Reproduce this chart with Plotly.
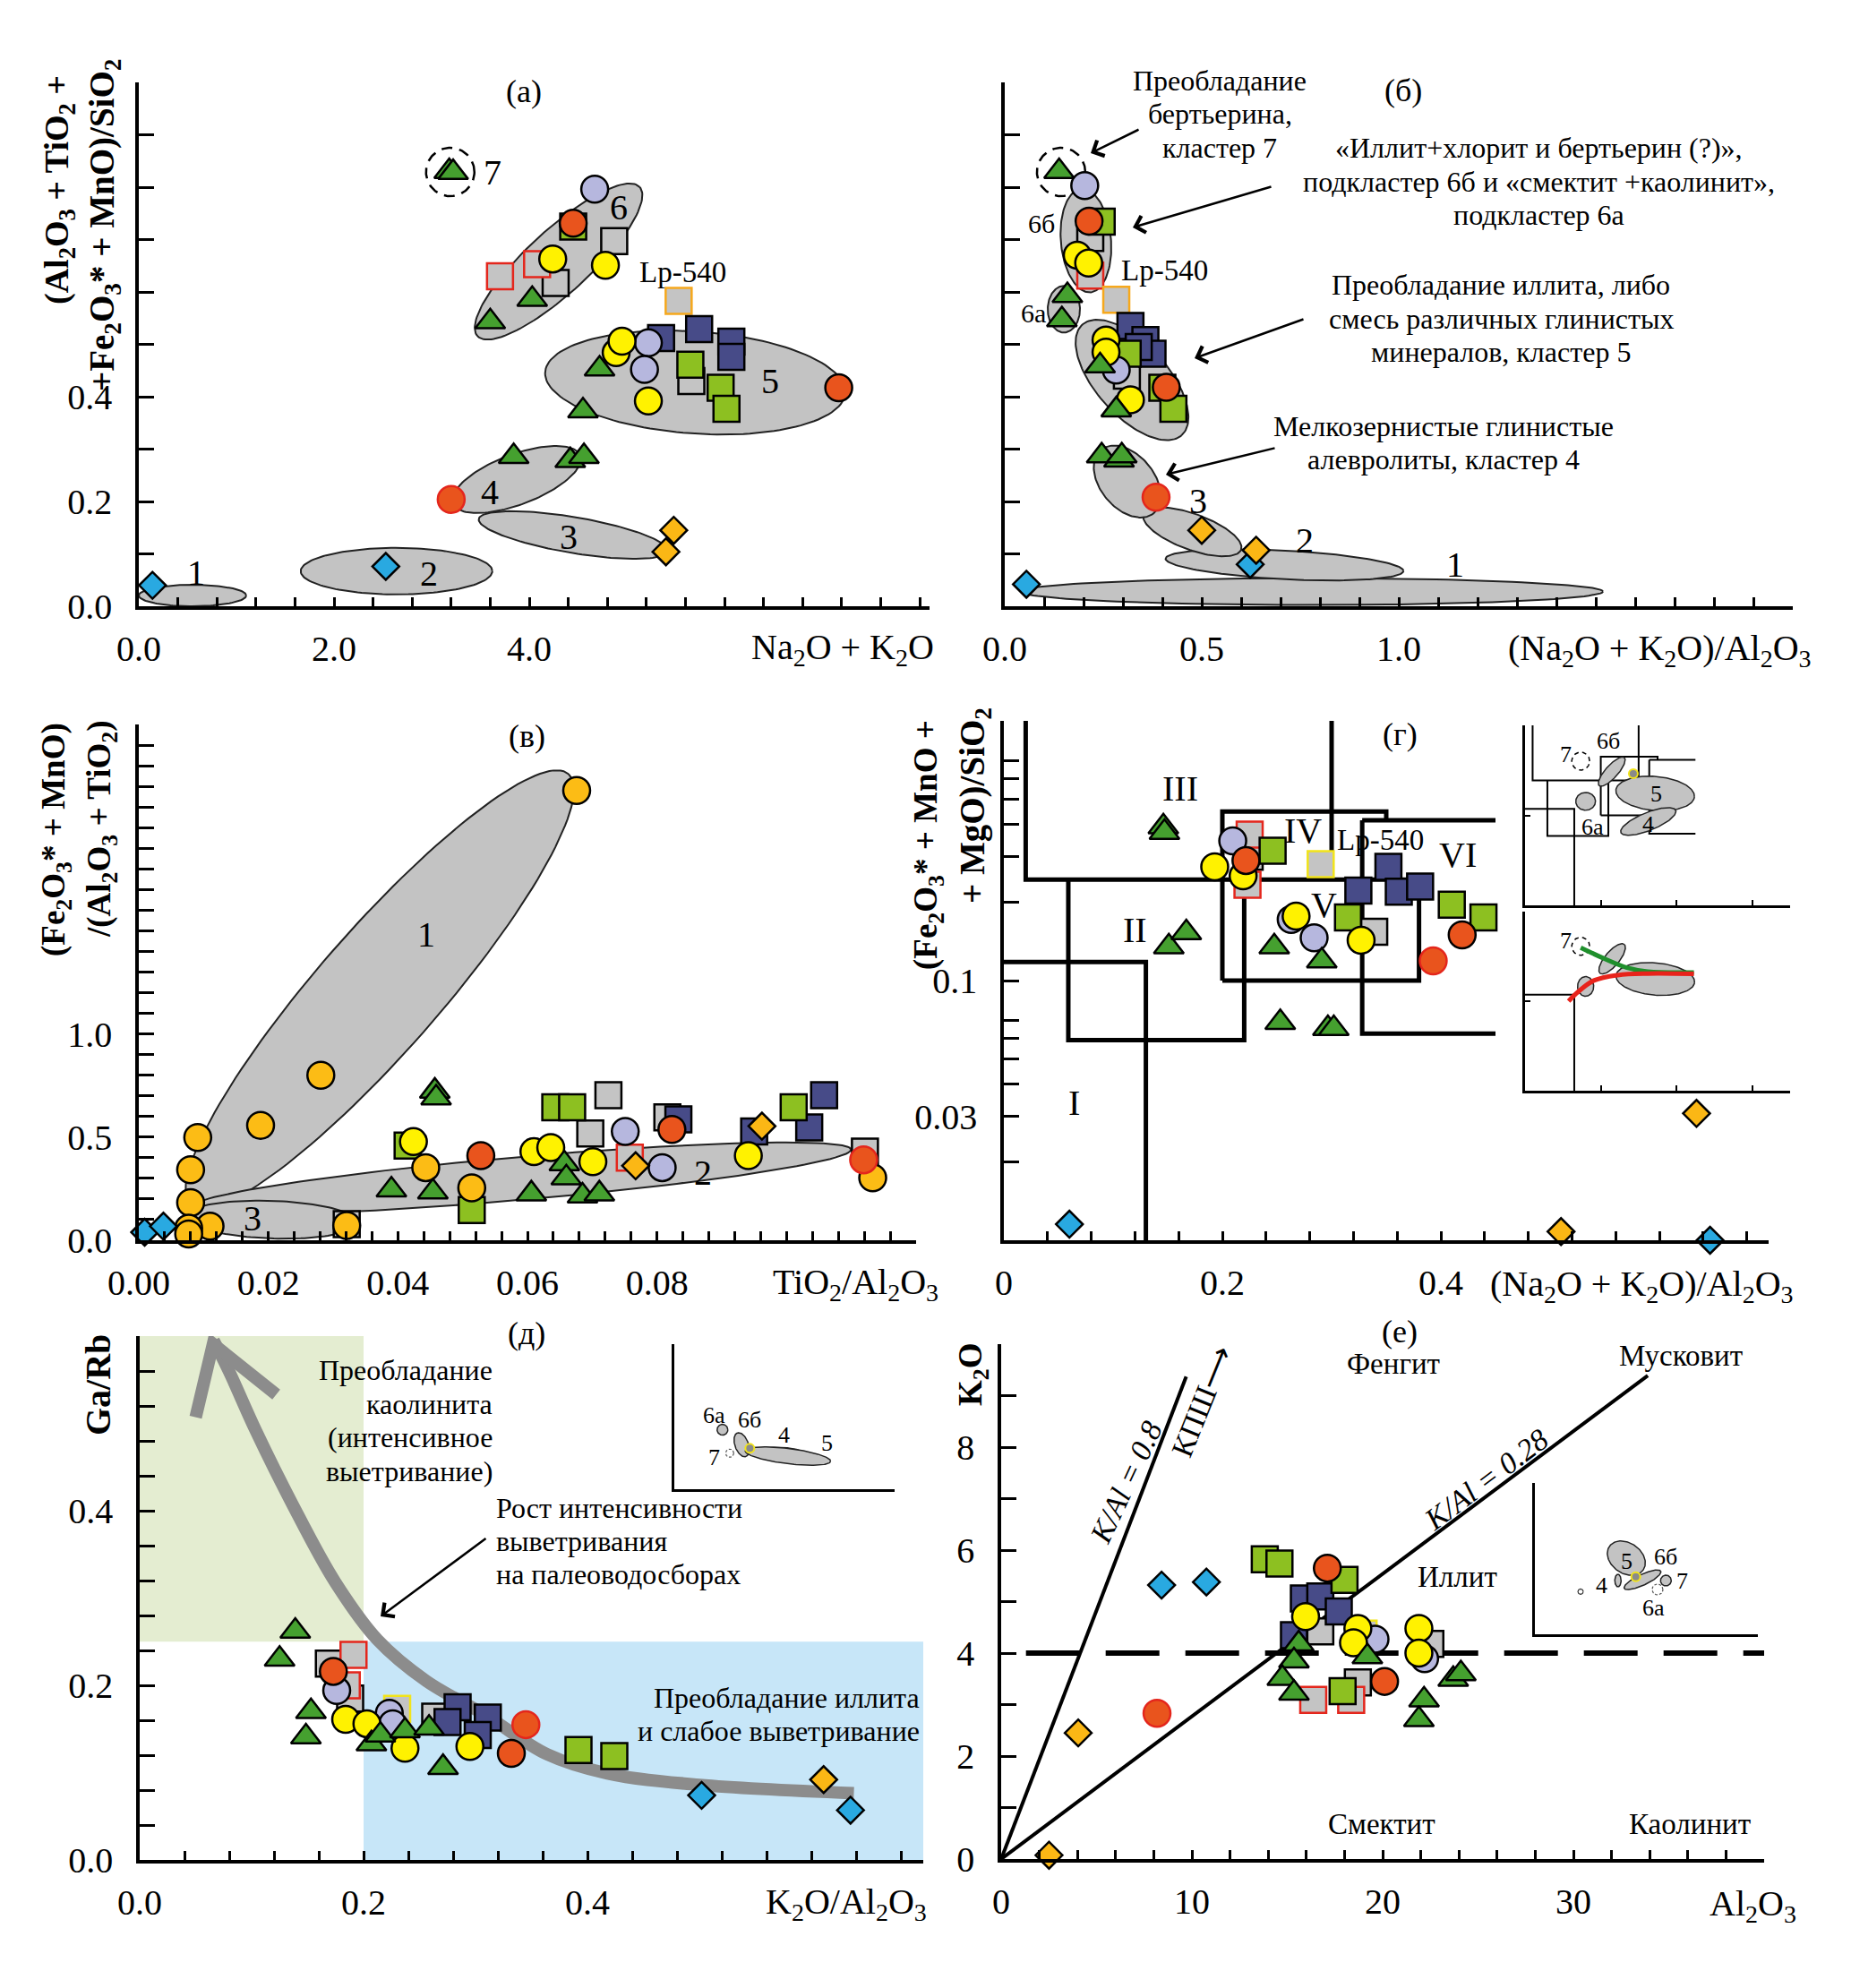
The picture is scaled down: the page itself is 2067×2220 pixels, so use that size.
import numpy as np
import plotly.graph_objects as go

W, H = 2067, 2220
OFF = 8                      # the page body margin; the figure is drawn inside it
FW, FH = W - OFF, H - OFF
FONT = "Liberation Serif"

# ---------------- data ----------------
# kinds: bd blue diamond, od gold diamond, rc red circle, rr red circle red edge,
# gt green triangle, yc yellow circle, oc gold circle, lc lavender circle,
# ns navy square, ls lime square, gs gray square, gr gray square red edge,
# lp gray square orange edge (Lp-540), ly gray square yellow edge (Lp-540)

A_X = [0.14, 2.53, 5.48, 5.40, 3.20, 3.84, 4.42, 4.56, 4.55, 4.72, 4.89, 4.95, 5.22, 5.22, 5.18,
       5.35, 5.74, 6.07, 6.07, 5.65, 5.96, 6.02, 5.66, 7.17, 5.53, 4.67, 4.45, 4.45, 4.87, 4.24,
       4.78, 3.70, 4.08, 4.27, 4.03, 3.60, 3.18, 3.22]
A_Y = [0.040, 0.076, 0.145, 0.104, 0.204, 0.286, 0.278, 0.286, 0.373, 0.453, 0.484, 0.506, 0.392, 0.503, 0.452,
       0.512, 0.529, 0.505, 0.476, 0.461, 0.417, 0.377, 0.430, 0.417, 0.583, 0.796, 0.725, 0.731, 0.697, 0.663,
       0.651, 0.630, 0.653, 0.617, 0.586, 0.543, 0.830, 0.828]
A_K = ['bd', 'bd', 'od', 'od', 'rr', 'gt', 'gt', 'gt', 'gt', 'gt', 'yc', 'yc', 'yc', 'lc', 'lc',
       'ns', 'ns', 'ns', 'ns', 'ls', 'ls', 'ls', 'gs', 'rc', 'lp', 'lc', 'ls', 'rc', 'gs', 'yc',
       'yc', 'gr', 'gr', 'gs', 'gt', 'gt', 'gt', 'gt']

B_X = [0.138, 0.203, 0.246, 0.217, 0.214, 0.217, 0.184, 0.213, 0.159, 0.145, 0.283, 0.319, 0.357, 0.375,
       0.340, 0.312, 0.400, 0.428, 0.310, 0.257, 0.257, 0.319, 0.283, 0.242, 0.283, 0.410, 0.246, 0.290,
       0.297, 0.384, 0.500, 0.638, 0.623, 0.055]
B_Y = [0.830, 0.803, 0.734, 0.703, 0.735, 0.631, 0.670, 0.655, 0.593, 0.547, 0.585, 0.535, 0.508, 0.482,
       0.495, 0.482, 0.417, 0.377, 0.440, 0.508, 0.485, 0.394, 0.451, 0.459, 0.375, 0.418, 0.287, 0.279,
       0.287, 0.208, 0.145, 0.107, 0.080, 0.042]
B_K = ['gt', 'lc', 'ls', 'gs', 'rc', 'gr', 'yc', 'yc', 'gt', 'gt', 'lp', 'ns', 'ns', 'ns',
       'ns', 'ls', 'ls', 'ls', 'gs', 'yc', 'yc', 'yc', 'lc', 'gt', 'gt', 'rc', 'gt', 'gt',
       'gt', 'rr', 'od', 'od', 'bd', 'bd']

V_X = [0.0676, 0.0281, 0.0188, 0.0091, 0.0080, 0.0080, 0.0110, 0.0077, 0.0077, 0.0443, 0.0514, 0.1133,
       0.0321, 0.0009, 0.0038, 0.0321, 0.0725, 0.0697, 0.0816, 0.1121, 0.0457, 0.0459, 0.0390, 0.0454,
       0.0606, 0.0657, 0.0660, 0.0685, 0.0711, 0.0415, 0.0514, 0.0643, 0.0669, 0.1011, 0.0424, 0.0610,
       0.0636, 0.0701, 0.0941, 0.0528, 0.0823, 0.1119, 0.0833, 0.0950, 0.1058, 0.1035, 0.0751, 0.0808,
       0.0962, 0.0767, 0.0758]
V_Y = [2.18, 0.80, 0.557, 0.498, 0.342, 0.182, 0.068, 0.059, 0.030, 0.352, 0.254, 0.303,
       0.072, 0.039, 0.068, 0.078, 0.703, 0.518, 0.596, 0.430, 0.723, 0.690, 0.244, 0.234,
       0.225, 0.371, 0.303, 0.215, 0.225, 0.459, 0.146, 0.645, 0.645, 0.645, 0.478, 0.430,
       0.449, 0.381, 0.410, 0.410, 0.537, 0.390, 0.586, 0.527, 0.703, 0.547, 0.527, 0.352,
       0.553, 0.361, 0.400]
V_K = ['oc', 'oc', 'oc', 'oc', 'oc', 'oc', 'oc', 'oc', 'oc', 'oc', 'oc', 'oc',
       'oc', 'bd', 'bd', 'gs', 'gs', 'gs', 'gs', 'gs', 'gt', 'gt', 'gt', 'gt',
       'gt', 'gt', 'gt', 'gt', 'gt', 'ls', 'ls', 'ls', 'ls', 'ls', 'yc', 'yc',
       'yc', 'yc', 'yc', 'rc', 'rc', 'rr', 'ns', 'ns', 'ns', 'ns', 'lc', 'lc',
       'od', 'od', 'gr']

G_X = [0.146, 0.147, 0.151, 0.167, 0.2475, 0.291, 0.253, 0.2966, 0.302, 0.225, 0.223, 0.225, 0.339,
       0.2095, 0.284, 0.263, 0.246, 0.410, 0.439, 0.315, 0.2216, 0.4195, 0.393, 0.193, 0.219, 0.2675,
       0.327, 0.290, 0.352, 0.3245, 0.3615, 0.381, 0.634, 0.510, 0.060, 0.6464]
G_Y = [0.391, 0.372, 0.135, 0.153, 0.135, 0.119, 0.069, 0.0654, 0.0654, 0.365, 0.234, 0.300, 0.154,
       0.345, 0.146, 0.172, 0.316, 0.196, 0.175, 0.175, 0.290, 0.150, 0.119, 0.274, 0.253, 0.177,
       0.143, 0.281, 0.274, 0.222, 0.220, 0.230, 0.0308, 0.0108, 0.01153, 0.0100]
G_K = ['gt', 'gt', 'gt', 'gt', 'gt', 'gt', 'gt', 'gt', 'gt', 'gr', 'gr', 'gs', 'gs',
       'lc', 'lc', 'lc', 'ls', 'ls', 'ls', 'ls', 'rc', 'rc', 'rr', 'yc', 'yc', 'yc',
       'yc', 'ly', 'ns', 'ns', 'ns', 'ns', 'od', 'od', 'bd', 'bd']

D_X = [0.139, 0.125, 0.153, 0.1485, 0.207, 0.215, 0.237, 0.2585, 0.271, 0.169, 0.188, 0.264, 0.191,
       0.185, 0.173, 0.332, 0.345, 0.176, 0.223, 0.226, 0.184, 0.203, 0.237, 0.295, 0.230, 0.284,
       0.275, 0.311, 0.302, 0.392, 0.424, 0.611, 0.502, 0.635]
D_Y = [0.262, 0.230, 0.170, 0.141, 0.133, 0.143, 0.148, 0.151, 0.106, 0.225, 0.185, 0.164, 0.235,
       0.200, 0.216, 0.122, 0.155, 0.194, 0.168, 0.156, 0.161, 0.156, 0.128, 0.130, 0.173, 0.175,
       0.158, 0.163, 0.143, 0.126, 0.119, 0.092, 0.074, 0.057]
D_K = ['gt', 'gt', 'gt', 'gt', 'gt', 'gt', 'gt', 'gt', 'gt', 'gs', 'gs', 'gs', 'gr',
       'gr', 'rc', 'rc', 'rr', 'lc', 'lc', 'lc', 'yc', 'yc', 'yc', 'yc', 'ly', 'ns',
       'ns', 'ns', 'ns', 'ls', 'ls', 'od', 'bd', 'bd']

E_X = [8.41, 10.76, 4.04, 2.51, 8.17, 13.82, 14.59, 18.0, 17.9, 17.1, 20.1, 15.87, 16.73, 17.7, 15.35,
       15.96, 18.7, 18.47, 21.9, 21.9, 16.73, 22.5, 18.7, 19.0, 16.36, 18.35, 19.6, 22.2, 15.6, 15.35,
       19.2, 14.74, 15.35, 22.17, 21.9, 23.7, 24.1]
E_Y = [5.32, 5.38, 2.45, 0.075, 2.83, 5.82, 5.74, 5.42, 3.26, 5.65, 3.45, 5.06, 5.10, 4.81, 4.35,
       4.71, 4.48, 4.20, 4.48, 4.00, 4.42, 4.18, 3.43, 4.38, 3.09, 3.09, 4.27, 3.89, 4.18, 3.85,
       3.93, 3.51, 3.22, 3.09, 2.71, 3.49, 3.60]
E_K = ['bd', 'bd', 'od', 'od', 'rr', 'ls', 'ls', 'ls', 'ls', 'rc', 'rc', 'ns', 'ns', 'ns', 'ns',
       'yc', 'yc', 'yc', 'yc', 'yc', 'gs', 'gs', 'gs', 'ly', 'gr', 'gr', 'lc', 'lc', 'gt', 'gt',
       'gt', 'gt', 'gt', 'gt', 'gt', 'gt', 'gt']

# cluster ellipses: centre (data), semi-axes (px), angle (deg)
ELL_A = [(0.55, 0.0205, 60, 12, 0), (2.64, 0.067, 107, 26, 0), (4.45, 0.136, 107, 20, -9.6),
         (3.87, 0.242, 76, 28, 20.6), (5.70, 0.427, 168, 57, -4), (4.30, 0.658, 123, 35, 42.6)]
ELL_A7 = [(3.19, 0.829, 27, 27, 0)]
ELL_B = [(0.78, 0.028, 325, 15, 0), (0.71, 0.079, 133, 16, -3), (0.476, 0.142, 58, 20, -20),
         (0.311, 0.238, 46, 30, -50), (0.323, 0.432, 83, 40, -48), (0.206, 0.698, 58, 28, 95),
         (0.15, 0.567, 26, 18, 90)]
ELL_B7 = [(0.143, 0.829, 27, 27, 0)]
ELL_V = [(0.0372, 1.215, 320, 68, 48.8), (0.059, 0.300, 370, 24, 5), (0.0205, 0.100, 97, 21, -2)]

# г: boundaries of fields I-VI
G_SEG = [([0.02, 0.02, 0.2], [1.0, 0.245, 0.245]),
         ([0.0, 0.13, 0.13], [0.118, 0.118, 0.01]),
         ([0.059, 0.059, 0.22, 0.22], [0.245, 0.059, 0.059, 0.245]),
         ([0.30, 0.30], [1.0, 0.245]),
         ([0.20, 0.20, 0.35, 0.35], [0.10, 0.448, 0.448, 0.414]),
         ([0.20, 0.38, 0.38, 0.20], [0.245, 0.245, 0.10, 0.10]),
         ([0.328, 0.45], [0.414, 0.414]),
         ([0.328, 0.328, 0.45], [0.414, 0.0625, 0.0625])]
G1_ELL = [(0.229, 0.306, 21, 7, 48), (0.3436, 0.175, 44, 19, -5), (0.3255, 0.0855, 33, 10, 22),
          (0.16, 0.143, 10, 11, 90)]
G2_ELL = [(0.23, 0.297, 21, 8, 50), (0.344, 0.177, 44, 18, -5), (0.16, 0.146, 11, 9, 90)]
G_GREEN_X = [0.147, 0.206, 0.269, 0.324, 0.446]
G_GREEN_LY = [-0.402, -0.519, -0.626, -0.669, -0.679]
G_RED_X = [0.115, 0.139, 0.182, 0.245, 0.324, 0.446]
G_RED_LY = [-1.0, -0.90, -0.769, -0.709, -0.692, -0.696]

# д: weathering trend arrow
D_ARR_X = [0.638, 0.500, 0.418, 0.364, 0.310, 0.256, 0.2125, 0.1745, 0.1366, 0.104, 0.0797, 0.066]
D_ARR_Y = [0.0765, 0.086, 0.099, 0.121, 0.165, 0.205, 0.252, 0.3185, 0.407, 0.491, 0.560, 0.595]
D_HEAD_X = [0.050, 0.0655, 0.122]
D_HEAD_Y = [0.507, 0.591, 0.533]
D1_ELL = [(0.153, 0.246, 6, 6, 0), (0.214, 0.184, 14, 7.5, 110), (0.319, 0.153, 30, 5.5, 0),
          (0.361, 0.137, 48, 8.5, -7)]

# е: reference lines
E_L08_X, E_L08_Y = [0, 9.7], [0, 9.37]
E_L028_X, E_L028_Y = [0, 33.9], [0, 9.39]
E_DASH_X, E_DASH_Y = [1.3, 40], [4, 4]
E1_ELL = [(16.4, 5.03, 23, 17, -35), (19.3, 3.6, 22.5, 6, 25), (14.9, 3.55, 3.5, 7, 0),
          (23.5, 3.55, 6, 6, 0)]

# ---------------- panels layout (px boxes in the 2067x2220 window) ----------------
PAN = {
    'a': dict(ax='', box=(155, 1038, 92, 677), xr=[0, 8.1], yr=[0, 1.0], log=False),
    'b': dict(ax='2', box=(1122, 2002, 92, 677), xr=[0, 2.0], yr=[0, 1.0], log=False),
    'v': dict(ax='3', box=(155, 1023, 809, 1385), xr=[0, 0.12], yr=[0, 2.5], log=False),
    'g': dict(ax='4', box=(1121, 1975, 805, 1385), xr=[0, 0.7], yr=[-2, 0], log=True),
    'd': dict(ax='5', box=(156, 1031, 1492, 2077), xr=[0, 0.7], yr=[0, 0.6], log=False),
    'e': dict(ax='6', box=(1118, 1970, 1501, 2076), xr=[0, 40], yr=[0, 10], log=False),
    'g1': dict(ax='7', box=(1703, 1999, 810, 1011), xr=[0, 0.7], yr=[-2, 0], log=True),
    'g2': dict(ax='8', box=(1703, 1999, 1018, 1218), xr=[0, 0.7], yr=[-2, 0], log=True),
    'd1': dict(ax='9', box=(753, 999, 1501, 1663), xr=[0, 0.7], yr=[0, 0.6], log=False),
    'e1': dict(ax='10', box=(1714, 1963, 1656, 1825), xr=[0, 40], yr=[0, 10], log=False),
}

STY = {
    'bd': ('diamond', '#29a9e1', 'black', 23),
    'od': ('diamond', '#fbb715', 'black', 23),
    'rc': ('circle', '#e9541d', 'black', 30),
    'rr': ('circle', '#e9541d', '#e4261c', 30),
    'gt': ('triangle-up', '#45a02f', 'black', 29),
    'yc': ('circle', '#fff200', 'black', 30),
    'oc': ('circle', '#fcbc15', 'black', 30),
    'lc': ('circle', '#b6b7de', 'black', 30),
    'ns': ('square', '#474b88', 'black', 29),
    'ls': ('square', '#8dc021', 'black', 29),
    'gs': ('square', '#c4c4c4', 'black', 29),
    'gr': ('square', '#c4c4c4', '#e4261c', 29),
    'lp': ('square', '#c4c4c4', '#f6a81c', 29),
    'ly': ('square', '#c4c4c4', '#f2e41a', 29),
}
ORDER = ['gs', 'gr', 'lp', 'ly', 'ns', 'ls', 'lc', 'yc', 'oc', 'rc', 'rr', 'gt', 'bd', 'od']

fig = go.Figure()


def refs(p):
    s = PAN[p]['ax']
    return 'x' + s, 'y' + s


def scale(p):
    l, r, t, b = PAN[p]['box']
    xr, yr = PAN[p]['xr'], PAN[p]['yr']
    return (r - l) / (xr[1] - xr[0]), (b - t) / (yr[1] - yr[0]), PAN[p]['log']


def ell_xy(p, cx, cy, a, b, ang, n=140):
    sx, sy, lg = scale(p)
    t = np.linspace(0, 2 * np.pi, n)
    u, v = a * np.cos(t), b * np.sin(t)
    th = np.radians(ang)
    dx = u * np.cos(th) - v * np.sin(th)
    dy = u * np.sin(th) + v * np.cos(th)
    x = cx + dx / sx
    y = cy * 10 ** (dy / sy) if lg else cy + dy / sy
    return x, y


def add_ell(p, E, fill='#c3c3c3', edge='#222222', lw=2.0, dash=None):
    xa, ya = refs(p)
    for (cx, cy, a, b, ang) in E:
        x, y = ell_xy(p, cx, cy, a, b, ang)
        fig.add_trace(go.Scatter(x=x, y=y, mode='lines', xaxis=xa, yaxis=ya,
                                 fill='toself' if fill else 'none', fillcolor=fill,
                                 line=dict(color=edge, width=lw, dash=dash),
                                 cliponaxis=False, hoverinfo='skip', showlegend=False))


def add_line(p, x, y, color='black', width=4, dash=None, shape='linear'):
    xa, ya = refs(p)
    fig.add_trace(go.Scatter(x=x, y=y, mode='lines', xaxis=xa, yaxis=ya,
                             line=dict(color=color, width=width, dash=dash, shape=shape),
                             cliponaxis=False, hoverinfo='skip', showlegend=False))


def add_pts(p, X, Y, K):
    xa, ya = refs(p)
    for kind in ORDER:
        idx = [i for i, k in enumerate(K) if k == kind]
        if not idx:
            continue
        sym, fc, lc, sz = STY[kind]
        fig.add_trace(go.Scatter(x=[X[i] for i in idx], y=[Y[i] for i in idx], mode='markers',
                                 xaxis=xa, yaxis=ya, cliponaxis=False, hoverinfo='skip',
                                 showlegend=False,
                                 marker=dict(symbol=sym, size=sz, color=fc,
                                             line=dict(color=lc, width=2.5))))


def dot(p, x, y, fill='#8a8a8a', edge='#f2e41a', size=10):
    xa, ya = refs(p)
    fig.add_trace(go.Scatter(x=[x], y=[y], mode='markers', xaxis=xa, yaxis=ya, cliponaxis=False,
                             hoverinfo='skip', showlegend=False,
                             marker=dict(symbol='circle', size=size, color=fill,
                                         line=dict(color=edge, width=2))))


# ---- panel а
add_ell('a', ELL_A)
add_ell('a', ELL_A7, fill=None, edge='black', lw=2.5, dash='12px,8px')
add_pts('a', A_X, A_Y, A_K)
# ---- panel б
add_ell('b', ELL_B)
add_ell('b', ELL_B7, fill=None, edge='black', lw=2.5, dash='12px,8px')
add_pts('b', B_X, B_Y, B_K)
# ---- panel в
add_ell('v', ELL_V)
add_pts('v', V_X, V_Y, V_K)
# ---- panel г
for sx_, sy_ in G_SEG:
    add_line('g', sx_, sy_, width=5)
add_pts('g', G_X, G_Y, G_K)
for sx_, sy_ in G_SEG:
    add_line('g1', sx_, sy_, width=2)
add_ell('g1', G1_ELL, lw=1.5)
add_ell('g1', [(0.147, 0.40, 10, 10, 0)], fill=None, edge='black', lw=1.5, dash='5px,4px')
dot('g1', 0.286, 0.29)
add_line('g2', G_SEG[1][0], G_SEG[1][1], width=2)
add_ell('g2', G2_ELL, lw=1.5)
add_ell('g2', [(0.147, 0.41, 10, 10, 0)], fill=None, edge='black', lw=1.5, dash='5px,4px')
add_line('g2', G_GREEN_X, [10 ** v for v in G_GREEN_LY], color='#1f8f2c', width=5, shape='spline')
add_line('g2', G_RED_X, [10 ** v for v in G_RED_LY], color='#e8231b', width=5, shape='spline')
# ---- panel д
add_line('d', D_ARR_X, D_ARR_Y, color='#8c8c8c', width=14, shape='spline')
add_line('d', D_HEAD_X, D_HEAD_Y, color='#8c8c8c', width=14)
add_pts('d', D_X, D_Y, D_K)
add_ell('d1', D1_ELL, lw=1.5)
add_ell('d1', [(0.176, 0.149, 4.5, 4.5, 0)], fill=None, edge='#555555', lw=1.2, dash='3px,2px')
dot('d1', 0.24, 0.169)
# ---- panel е
add_line('e', E_L08_X, E_L08_Y, width=4)
add_line('e', E_L028_X, E_L028_Y, width=4)
add_line('e', E_DASH_X, E_DASH_Y, width=6, dash='60px,29px')
add_pts('e', E_X, E_Y, E_K)
add_ell('e1', E1_ELL, lw=1.5)
add_ell('e1', [(22.0, 2.96, 6, 6, 0)], fill=None, edge='#555555', lw=1.2, dash='3px,2px')
add_ell('e1', [(8.2, 2.82, 3, 3, 0)], fill='white', edge='#333333', lw=1.2)
dot('e1', 18.1, 3.8)


# ---------------- axes ----------------
def tk(vals, labels):
    vals = [float(np.round(v, 6)) for v in vals]
    txt = []
    for v in vals:
        s = ''
        for lv, lt in labels:
            if abs(v - lv) < 1e-9:
                s = lt
        txt.append(s)
    return vals, txt


TICKS = {
    'a': (tk(np.arange(0, 8.0001, 0.4), [(0, '0.0'), (2, '2.0'), (4, '4.0')]),
          tk(np.arange(0, 1.0001, 0.1), [(0, '0.0'), (0.2, '0.2'), (0.4, '0.4')])),
    'b': (tk(np.arange(0, 2.0001, 0.1), [(0, '0.0'), (0.5, '0.5'), (1.0, '1.0')]),
          tk(np.arange(0, 1.0001, 0.1), [])),
    'v': (tk(np.arange(0, 0.12001, 0.004), [(0, '0.00'), (0.02, '0.02'), (0.04, '0.04'),
                                            (0.06, '0.06'), (0.08, '0.08')]),
          tk(np.arange(0, 2.5001, 0.1), [(0, '0.0'), (0.5, '0.5'), (1.0, '1.0')])),
    'g': (tk(list(np.arange(0, 0.6801, 0.04)) + [0.7], [(0, '0'), (0.2, '0.2'), (0.4, '0.4')]),
          tk([0.02, 0.03, 0.04, 0.05, 0.06, 0.07, 0.1, 0.2, 0.3, 0.4, 0.5, 0.6, 0.7, 1.0],
             [(0.1, '0.1'), (0.03, '0.03')])),
    'd': (tk(list(np.arange(0, 0.6801, 0.04)) + [0.7], [(0, '0.0'), (0.2, '0.2'), (0.4, '0.4')]),
          tk(np.arange(0, 0.6001, 0.04), [(0, '0.0'), (0.2, '0.2'), (0.4, '0.4')])),
    'e': (tk(np.arange(0, 40.001, 2), [(0, '0'), (10, '10'), (20, '20'), (30, '30')]),
          tk(np.arange(0, 10.001, 1), [(0, '0'), (2, '2'), (4, '4'), (6, '6'), (8, '8')])),
    'g1': (tk([0.2, 0.4, 0.6, 0.7], []), tk([0.1, 1.0], [])),
    'g2': (tk([0.2, 0.4, 0.6, 0.7], []), tk([0.1, 1.0], [])),
    'd1': (tk([0.7], []), tk([], [])),
    'e1': (tk([40], []), tk([], [])),
}

layout = dict(width=FW, height=FH, margin=dict(l=0, r=0, t=0, b=0, pad=0), paper_bgcolor='white',
              plot_bgcolor='rgba(0,0,0,0)', showlegend=False, template='none')
for key, p in PAN.items():
    s = p['ax']
    l, r, t, b = p['box']
    inset = key in ('g1', 'g2', 'd1', 'e1')
    lw = 2.5 if inset else 3.5
    (xv, xt), (yv, yt) = TICKS[key]
    common = dict(showline=True, linecolor='black', linewidth=lw, showgrid=False, zeroline=False,
                  ticks='inside', tickcolor='black', tickwidth=lw - 0.5, tickmode='array',
                  automargin=False,
                  tickfont=dict(family=FONT, size=40, color='black'), fixedrange=True)
    layout['xaxis' + s] = dict(domain=[(l - OFF) / FW, (r - OFF) / FW], range=p['xr'], anchor='y' + s,
                               tickvals=xv, ticktext=xt, ticklen=6 if inset else 10,
                               showticklabels=not inset, ticklabelstandoff=9, **common)
    layout['yaxis' + s] = dict(domain=[1 - (b - OFF) / FH, 1 - (t - OFF) / FH], range=p['yr'],
                               anchor='x' + s, type='log' if p['log'] else 'linear',
                               tickvals=yv, ticktext=yt, ticklen=6 if inset else 17,
                               showticklabels=not inset, ticklabelstandoff=18, **common)

# ---------------- texts ----------------
ANN = []


def P(px, py):
    return (px - OFF) / FW, 1 - (py - OFF) / FH


def T(text, px, py, size=32, xa='center', ya='middle', bold=False, angle=0, italic=False):
    x, y = P(px, py)
    if bold:
        text = '<b>' + text + '</b>'
    if italic:
        text = '<i>' + text + '</i>'
    ANN.append(dict(text=text, x=x, y=y, xref='paper', yref='paper', showarrow=False,
                    xanchor=xa, yanchor=ya, textangle=angle,
                    font=dict(family=FONT, size=size, color='black')))


def ARW(hx, hy, tx, ty):
    x, y = P(hx, hy)
    ANN.append(dict(text='', x=x, y=y, xref='paper', yref='paper', showarrow=True,
                    ax=tx - hx, ay=ty - hy, axref='pixel', ayref='pixel',
                    arrowhead=4, arrowsize=1.5, arrowwidth=2.5, arrowcolor='black'))


def block(lines, px, py0, dy, size=32, xa='center'):
    for i, ln in enumerate(lines):
        T(ln, px, py0 + i * dy, size=size, xa=xa)


# panel а
T('(а)', 585, 102, 36)
T('(Al<sub>2</sub>O<sub>3</sub> + TiO<sub>2</sub> +', 66, 212, 38, bold=True, angle=-90)
T('+Fe<sub>2</sub>O<sub>3</sub>* + MnO)/SiO<sub>2</sub>', 117, 252, 39, bold=True, angle=-90)
T('Na<sub>2</sub>O + K<sub>2</sub>O', 941, 725, 40)
for s_, x_, y_ in [('1', 219, 639), ('2', 479, 641), ('3', 635, 599), ('4', 547, 549), ('5', 860, 425),
                   ('6', 691, 231), ('7', 550, 192)]:
    T(s_, x_, y_, 40)
T('Lp-540', 762, 304, 33)

# panel б
T('(б)', 1567, 101, 36)
T('(Na<sub>2</sub>O + K<sub>2</sub>O)/Al<sub>2</sub>O<sub>3</sub>', 1853, 726, 40)
block(['Преобладание', 'бертьерина,', 'кластер 7'], 1362, 90, 37.5)
block(['«Иллит+хлорит и бертьерин (?)»,', 'подкластер 6б и «смектит +каолинит»,', 'подкластер 6а'],
      1718, 165, 37.5)
block(['Преобладание иллита, либо', 'смесь различных глинистых', 'минералов, кластер 5'], 1676, 318, 37.5)
block(['Мелкозернистые глинистые', 'алевролиты, кластер 4'], 1612, 476, 37.5)
ARW(1218, 171, 1273, 144)
ARW(1265, 254, 1421, 208)
ARW(1334, 400, 1457, 356)
ARW(1302, 530, 1425, 500)
T('Lp-540', 1300, 302, 33)
T('6б', 1163, 249, 30)
T('6а', 1154, 349, 30)
T('3', 1338, 559, 40)
T('2', 1457, 603, 40)
T('1', 1625, 630, 40)

# panel в
T('(в)', 588, 822, 36)
T('(Fe<sub>2</sub>O<sub>3</sub>* + MnO)', 63, 938, 37, bold=True, angle=-90)
T('/(Al<sub>2</sub>O<sub>3</sub> + TiO<sub>2</sub>)', 113, 926, 37, bold=True, angle=-90)
T('TiO<sub>2</sub>/Al<sub>2</sub>O<sub>3</sub>', 955, 1434, 40)
T('1', 476, 1043, 40)
T('2', 785, 1309, 40)
T('3', 282, 1360, 40)

# panel г
T('(г)', 1563, 820, 36)
T('(Fe<sub>2</sub>O<sub>3</sub>* + MnO +', 1036, 944, 37, bold=True, angle=-90)
T('+ MgO)/SiO<sub>2</sub>', 1088, 900, 39, bold=True, angle=-90)
T('(Na<sub>2</sub>O + K<sub>2</sub>O)/Al<sub>2</sub>O<sub>3</sub>', 1833, 1436, 40)
for s_, x_, y_ in [('III', 1318, 880), ('II', 1267, 1039), ('I', 1199, 1231), ('IV', 1455, 927),
                   ('V', 1478, 1010), ('VI', 1628, 954)]:
    T(s_, x_, y_, 40)
T('Lp-540', 1541, 938, 33)
for s_, x_, y_ in [('7', 1748, 843), ('6б', 1796, 827), ('5', 1849, 887), ('4', 1840, 920),
                   ('6а', 1778, 923), ('7', 1748, 1050)]:
    T(s_, x_, y_, 26)

# panel д
T('(д)', 588, 1489, 36)
T('Ga/Rb', 109, 1547, 40, bold=True, angle=-90)
T('K<sub>2</sub>O/Al<sub>2</sub>O<sub>3</sub>', 945, 2126, 40)
block(['Преобладание', 'каолинита', '(интенсивное', 'выетривание)'], 552, 1530, 37.6, xa='right')
block(['Рост интенсивности', 'выветривания', 'на палеоводосборах'], 552, 1684, 37.2, xa='left')
block(['Преобладание иллита', 'и слабое выветривание'], 1029, 1896, 36.6, xa='right')
ARW(425, 1805, 544, 1717)
for s_, x_, y_ in [('6а', 797, 1580), ('6б', 837, 1585), ('4', 875, 1602), ('5', 923, 1611),
                   ('7', 797, 1627)]:
    T(s_, x_, y_, 26)

# panel е
T('(е)', 1563, 1487, 36)
T('K<sub>2</sub>O', 1086, 1535, 37, bold=True, angle=-90)
T('Al<sub>2</sub>O<sub>3</sub>', 1957, 2128, 40)
T('Фенгит', 1556, 1523, 33)
T('Мусковит', 1877, 1514, 33)
T('Иллит', 1627, 1761, 33)
T('Смектит', 1543, 2037, 33)
T('Каолинит', 1887, 2037, 33)
T('K/Al = 0.8', 1257, 1655, 34, italic=True, angle=-65)
T('КПШ⟶', 1343, 1565, 34, angle=-68)
T('K/Al = 0.28', 1659, 1652, 34, italic=True, angle=-37)
for s_, x_, y_ in [('5', 1816, 1743), ('6б', 1860, 1738), ('4', 1788, 1770), ('7', 1878, 1765),
                   ('6а', 1846, 1796)]:
    T(s_, x_, y_, 26)

layout['annotations'] = ANN
layout['shapes'] = [
    dict(type='rect', xref='x5', yref='y5', x0=0, x1=0.2, y0=0.25, y1=0.6, fillcolor='#e4edd1',
         line=dict(width=0), layer='below'),
    dict(type='rect', xref='x5', yref='y5', x0=0.2, x1=0.7, y0=0, y1=0.25, fillcolor='#c7e6f8',
         line=dict(width=0), layer='below'),
]
fig.update_layout(**layout)
fig.write_html("out.html")
